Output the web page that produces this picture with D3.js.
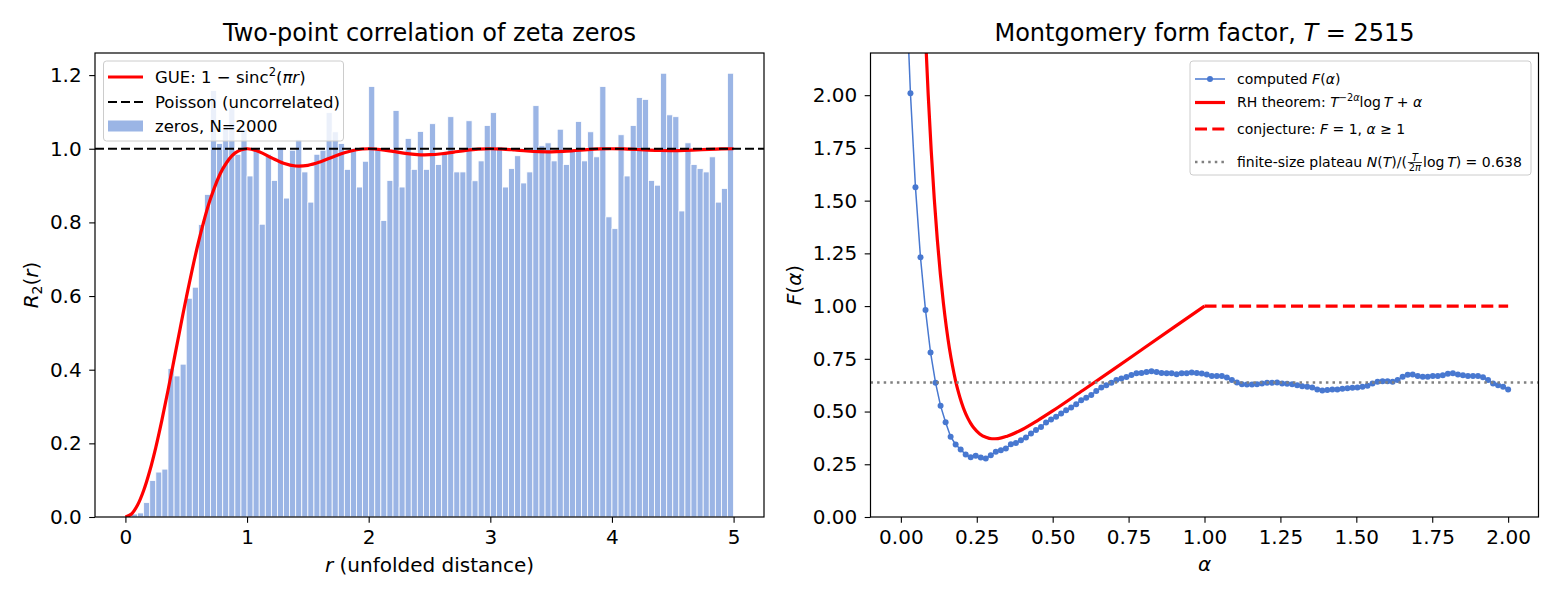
<!DOCTYPE html>
<html>
<head>
<meta charset="utf-8">
<script src="https://cdn.jsdelivr.net/npm/d3@7"></script>
<style>
  body { margin: 0; background: #fff; }
  text { white-space: pre; }
</style>
</head>
<body>
<script>
// ---------- data ----------
// left panel: histogram of pair distances, bin width 0.05 on [0,5]
var binWidth = 0.05;
var zeroDensity = [
  0.000, 0.008, 0.011, 0.039, 0.099, 0.122, 0.130, 0.403, 0.383, 0.415,
  0.594, 0.624, 0.794, 0.876, 1.158, 1.014, 1.060, 1.112, 0.985, 1.053,
  0.926, 1.003, 0.795, 0.985, 0.914, 1.003, 0.866, 0.996, 1.025, 0.937,
  0.855, 0.985, 0.996, 1.098, 1.046, 1.014, 0.944, 1.001, 0.896, 0.966,
  1.169, 1.001, 0.805, 0.914, 1.104, 0.896, 1.028, 0.944, 1.047, 0.944,
  1.068, 0.957, 0.987, 1.087, 0.937, 0.937, 1.076, 0.913, 0.967, 1.063,
  1.098, 1.005, 0.896, 0.946, 0.981, 0.907, 0.937, 1.117, 1.008, 1.016,
  0.967, 1.053, 0.957, 0.996, 1.074, 0.967, 1.046, 0.978, 1.169, 0.815,
  0.783, 1.038, 0.926, 1.063, 1.139, 1.134, 0.914, 0.901, 1.205, 1.092,
  1.087, 0.831, 1.016, 0.957, 0.946, 0.937, 0.978, 0.855, 0.892, 1.205
];
var binLeft = zeroDensity.map(function(d, i) { return i * binWidth; });

// GUE curve samples
var gueR = [0, 0.05, 0.1, 0.15, 0.2, 0.25, 0.3, 0.35, 0.4, 0.45, 0.5, 0.6, 0.7, 0.8, 0.9,
  1.0, 1.1, 1.2, 1.3, 1.4, 1.5, 1.6, 1.7, 1.8, 1.9,
  2.0, 2.1, 2.2, 2.3, 2.4, 2.5, 2.6, 2.7, 2.8, 2.9,
  3.0, 3.1, 3.2, 3.3, 3.4, 3.5, 3.6, 3.7, 3.8, 3.9,
  4.0, 4.1, 4.2, 4.3, 4.4, 4.5, 4.6, 4.7, 4.8, 4.9, 5.0];
var gueVals = [0.0000, 0.0082, 0.0325, 0.0719, 0.1249, 0.1894, 0.2632, 0.3434, 0.4272, 0.5119,
  0.5947, 0.7454, 0.8647, 0.9453, 0.9881,
  1.0000, 0.9920, 0.9757, 0.9608, 0.9532, 0.9550, 0.9642, 0.9771, 0.9892, 0.9973,
  1.0000, 0.9978, 0.9928, 0.9875, 0.9841, 0.9838, 0.9864, 0.9909, 0.9955, 0.9989,
  1.0000, 0.9990, 0.9966, 0.9939, 0.9921, 0.9917, 0.9929, 0.9952, 0.9976, 0.9994,
  1.0000, 0.9994, 0.9980, 0.9964, 0.9953, 0.9950, 0.9957, 0.9970, 0.9985, 0.9996, 1.0000];
var poissonLevel = 1.0;

// right panel: computed form factor on 121 alpha points from 0.015 to 2
var alphaGrid = d3.range(121).map(function(k) { return 0.015 + k * (1.985 / 120); });
var formFactor = [
  2.600, 2.009, 1.563, 1.231, 0.981, 0.780, 0.636, 0.527, 0.449, 0.381,
  0.344, 0.320, 0.296, 0.283, 0.290, 0.282, 0.277, 0.293, 0.309, 0.317,
  0.325, 0.345, 0.351, 0.364, 0.377, 0.396, 0.412, 0.427, 0.448, 0.462,
  0.475, 0.491, 0.506, 0.519, 0.535, 0.554, 0.565, 0.578, 0.598, 0.614,
  0.625, 0.636, 0.649, 0.657, 0.664, 0.673, 0.681, 0.683, 0.687, 0.691,
  0.687, 0.683, 0.681, 0.681, 0.677, 0.682, 0.682, 0.685, 0.683, 0.680,
  0.676, 0.669, 0.668, 0.669, 0.661, 0.649, 0.638, 0.630, 0.628, 0.628,
  0.630, 0.633, 0.636, 0.636, 0.638, 0.633, 0.632, 0.630, 0.625, 0.620,
  0.617, 0.614, 0.605, 0.600, 0.602, 0.605, 0.605, 0.608, 0.610, 0.613,
  0.614, 0.617, 0.622, 0.633, 0.641, 0.644, 0.644, 0.641, 0.649, 0.665,
  0.674, 0.676, 0.669, 0.665, 0.665, 0.668, 0.669, 0.672, 0.679, 0.682,
  0.676, 0.672, 0.669, 0.669, 0.668, 0.663, 0.649, 0.633, 0.625, 0.617,
  0.605
];
var rhAlpha = [0.06, 0.07, 0.08, 0.09, 0.10, 0.11, 0.12, 0.13, 0.14, 0.15, 0.16, 0.17, 0.18, 0.19,
               0.20, 0.21, 0.22, 0.23, 0.24, 0.26, 0.28, 0.30, 0.32, 0.35, 0.40, 0.45, 0.50,
               0.60, 0.70, 0.80, 0.90, 1.00];
var rhVals = [3.120, 2.686, 2.317, 2.003, 1.736, 1.509, 1.316, 1.153, 1.015, 0.898, 0.799, 0.717, 0.647, 0.590,
              0.542, 0.502, 0.470, 0.444, 0.423, 0.394, 0.378, 0.371, 0.372, 0.383, 0.415, 0.457, 0.503,
              0.601, 0.700, 0.800, 0.900, 1.000];
var conjAlpha = [1.0, 2.0];
var conjVals = [1.0, 1.0];
var plateauLevel = 0.638;

// ticks
var leftXTicks = [0, 1, 2, 3, 4, 5];
var leftYTicks = [0, 0.2, 0.4, 0.6, 0.8, 1.0, 1.2];
var rightXTicks = [0, 0.25, 0.5, 0.75, 1.0, 1.25, 1.5, 1.75, 2.0];
var rightYTicks = [0, 0.25, 0.5, 0.75, 1.0, 1.25, 1.5, 1.75, 2.0];

// ---------- setup ----------
var W = 1560, H = 598;
var FONT = "DejaVu Sans";
var tickFs = 20, labelFs = 20, titleFs = 24;
var svg = d3.select("body").append("svg")
  .attr("width", W).attr("height", H)
  .style("font-family", FONT);

var BAR_COLOR = "#9bb5e5";
var BLUE = "#4878d0";

// lays out a run of text pieces (italic, sub/superscripts, fractions)
function rich(parent, x, y, runs, fs, anchor, rotate) {
  var g = parent.append("g");
  var inner = g.append("g");
  var cx = 0;
  runs.forEach(function(r) {
    if (r.frac) {
      var s = fs * 0.7;
      var num = inner.append("text").attr("font-size", s).attr("font-style", "italic")
        .attr("y", -0.45 * fs).attr("text-anchor", "middle").text(r.frac[0]);
      var den = inner.append("text").attr("font-size", s).attr("y", 0.3 * fs).attr("text-anchor", "middle");
      den.append("tspan").text(r.frac[1]);
      den.append("tspan").attr("font-style", "italic").text(r.frac[2]);
      var w = Math.max(num.node().getComputedTextLength(), den.node().getComputedTextLength()) + 2;
      num.attr("x", cx + 1 + w / 2);
      den.attr("x", cx + 1 + w / 2);
      inner.append("line").attr("x1", cx + 1).attr("x2", cx + 1 + w)
        .attr("y1", -0.32 * fs).attr("y2", -0.32 * fs).attr("stroke", "#000").attr("stroke-width", 0.8);
      cx += w + 2;
    } else {
      var t = inner.append("text")
        .attr("x", cx).attr("y", (r.dy || 0) * fs)
        .attr("font-size", fs * (r.s || 1))
        .attr("font-style", r.i ? "italic" : "normal")
        .text(r.t);
      cx += t.node().getComputedTextLength();
    }
  });
  var shift = anchor === "middle" ? -cx / 2 : (anchor === "end" ? -cx : 0);
  inner.attr("transform", "translate(" + shift + ",0)");
  g.attr("transform", "translate(" + x + "," + y + ")" + (rotate ? " rotate(" + rotate + ")" : ""));
  return g;
}

function styleAxis(g) {
  g.attr("font-family", FONT).attr("font-size", tickFs);
  g.select(".domain").remove();
  g.selectAll(".tick line").attr("stroke", "#000").attr("stroke-width", 1.1);
  g.selectAll(".tick text").attr("fill", "#000");
}

// ---------- left panel ----------
var L = {x0: 95, x1: 764, y0: 53, y1: 517};
var x1 = d3.scaleLinear().domain([-0.25, 5.25]).range([L.x0, L.x1]);
var y1 = d3.scaleLinear().domain([0, 1.26]).range([L.y1, L.y0]);

svg.append("clipPath").attr("id", "clipL").append("rect")
  .attr("x", L.x0).attr("y", L.y0).attr("width", L.x1 - L.x0).attr("height", L.y1 - L.y0);
var gl = svg.append("g").attr("clip-path", "url(#clipL)");

gl.append("g").selectAll("rect")
  .data(zeroDensity)
  .enter().append("rect")
    .attr("x", function(d, i) { return x1(binLeft[i]); })
    .attr("width", function(d, i) { return x1(binLeft[i] + binWidth) - x1(binLeft[i]); })
    .attr("y", function(d) { return y1(d); })
    .attr("height", function(d) { return y1(0) - y1(d); })
    .attr("fill", BAR_COLOR)
    .attr("stroke", "#fff")
    .attr("stroke-width", 0.8);

gl.append("path")
  .datum(gueVals)
  .attr("fill", "none").attr("stroke", "#ff0000").attr("stroke-width", 3.2)
  .attr("d", d3.line()
    .x(function(d, i) { return x1(gueR[i]); })
    .y(function(d) { return y1(d); })
    .curve(d3.curveCatmullRom));

gl.append("line")
  .attr("x1", L.x0).attr("x2", L.x1)
  .attr("y1", y1(poissonLevel)).attr("y2", y1(poissonLevel))
  .attr("stroke", "#000").attr("stroke-width", 2).attr("stroke-dasharray", "9,4");

svg.append("g").attr("transform", "translate(0," + L.y1 + ")")
  .call(d3.axisBottom(x1).tickValues(leftXTicks).tickFormat(d3.format("d")).tickSize(5.8).tickPadding(7))
  .call(styleAxis);
svg.append("g").attr("transform", "translate(" + L.x0 + ",0)")
  .call(d3.axisLeft(y1).tickValues(leftYTicks).tickFormat(d3.format(".1f")).tickSize(5.8).tickPadding(7.5))
  .call(styleAxis);

svg.append("rect").attr("x", L.x0).attr("y", L.y0)
  .attr("width", L.x1 - L.x0).attr("height", L.y1 - L.y0)
  .attr("fill", "none").attr("stroke", "#000").attr("stroke-width", 1.2);

rich(svg, (L.x0 + L.x1) / 2, 41, [{t: "Two-point correlation of zeta zeros"}], titleFs, "middle");
rich(svg, (L.x0 + L.x1) / 2, 572, [{t: "r", i: true}, {t: " (unfolded distance)"}], labelFs, "middle");
rich(svg, 37.5, (L.y0 + L.y1) / 2,
  [{t: "R", i: true}, {t: "2", s: 0.7, dy: 0.22}, {t: "("}, {t: "r", i: true}, {t: ")"}], labelFs, "middle", -90);

// left legend
var legFs = 16.5;
var lg = svg.append("g");
lg.append("rect").attr("x", 103.5).attr("y", 61).attr("width", 240).attr("height", 80)
  .attr("rx", 3).attr("fill", "#fff").attr("fill-opacity", 0.8).attr("stroke", "#cccccc");
lg.append("line").attr("x1", 108).attr("x2", 143).attr("y1", 77).attr("y2", 77)
  .attr("stroke", "#ff0000").attr("stroke-width", 3.2);
lg.append("line").attr("x1", 108).attr("x2", 143).attr("y1", 102).attr("y2", 102)
  .attr("stroke", "#000").attr("stroke-width", 2).attr("stroke-dasharray", "9,4");
lg.append("rect").attr("x", 108).attr("y", 120.5).attr("width", 35).attr("height", 11)
  .attr("fill", BAR_COLOR);
rich(lg, 155, 83, [{t: "GUE: 1 \u2212 sinc"}, {t: "2", s: 0.7, dy: -0.42}, {t: "("}, {t: "\u03c0r", i: true}, {t: ")"}], legFs, "start");
rich(lg, 155, 108, [{t: "Poisson (uncorrelated)"}], legFs, "start");
rich(lg, 155, 132, [{t: "zeros, N=2000"}], legFs, "start");

// ---------- right panel ----------
var R = {x0: 870.5, x1: 1538.5, y0: 53, y1: 517};
var x2 = d3.scaleLinear().domain([-0.1, 2.1]).range([R.x0, R.x1]);
var y2 = d3.scaleLinear().domain([0, 2.2]).range([R.y1, R.y0]);

svg.append("clipPath").attr("id", "clipR").append("rect")
  .attr("x", R.x0).attr("y", R.y0).attr("width", R.x1 - R.x0).attr("height", R.y1 - R.y0);
var gr = svg.append("g").attr("clip-path", "url(#clipR)");

gr.append("path")
  .datum(formFactor)
  .attr("fill", "none").attr("stroke", BLUE).attr("stroke-width", 1.5)
  .attr("d", d3.line()
    .x(function(d, i) { return x2(alphaGrid[i]); })
    .y(function(d) { return y2(d); }));
gr.append("g").selectAll("circle")
  .data(formFactor)
  .enter().append("circle")
    .attr("cx", function(d, i) { return x2(alphaGrid[i]); })
    .attr("cy", function(d) { return y2(d); })
    .attr("r", 3)
    .attr("fill", BLUE);

gr.append("path")
  .datum(rhVals)
  .attr("fill", "none").attr("stroke", "#ff0000").attr("stroke-width", 3.2)
  .attr("d", d3.line()
    .x(function(d, i) { return x2(rhAlpha[i]); })
    .y(function(d) { return y2(d); })
    .curve(d3.curveMonotoneX));

gr.append("path")
  .datum(conjVals)
  .attr("fill", "none").attr("stroke", "#ff0000").attr("stroke-width", 3.2)
  .attr("stroke-dasharray", "12,5.3")
  .attr("d", d3.line()
    .x(function(d, i) { return x2(conjAlpha[i]); })
    .y(function(d) { return y2(d); }));

gr.append("line")
  .attr("x1", R.x0).attr("x2", R.x1)
  .attr("y1", y2(plateauLevel)).attr("y2", y2(plateauLevel))
  .attr("stroke", "#808080").attr("stroke-width", 2.5).attr("stroke-dasharray", "2.5,4.1");

svg.append("g").attr("transform", "translate(0," + R.y1 + ")")
  .call(d3.axisBottom(x2).tickValues(rightXTicks).tickFormat(d3.format(".2f")).tickSize(5.8).tickPadding(7))
  .call(styleAxis);
svg.append("g").attr("transform", "translate(" + R.x0 + ",0)")
  .call(d3.axisLeft(y2).tickValues(rightYTicks).tickFormat(d3.format(".2f")).tickSize(5.8).tickPadding(7.5))
  .call(styleAxis);

svg.append("rect").attr("x", R.x0).attr("y", R.y0)
  .attr("width", R.x1 - R.x0).attr("height", R.y1 - R.y0)
  .attr("fill", "none").attr("stroke", "#000").attr("stroke-width", 1.2);

rich(svg, (R.x0 + R.x1) / 2, 41, [{t: "Montgomery form factor, "}, {t: "T", i: true}, {t: " = 2515"}], titleFs, "middle");
rich(svg, (R.x0 + R.x1) / 2, 570.5, [{t: "\u03b1", i: true}], labelFs, "middle");
rich(svg, 801, (R.y0 + R.y1) / 2,
  [{t: "F", i: true}, {t: "("}, {t: "\u03b1", i: true}, {t: ")"}], labelFs, "middle", -90);

// right legend
var rFs = 14;
var rg = svg.append("g");
rg.append("rect").attr("x", 1190).attr("y", 61).attr("width", 341).attr("height", 114)
  .attr("rx", 3).attr("fill", "#fff").attr("fill-opacity", 0.8).attr("stroke", "#cccccc");
rg.append("line").attr("x1", 1195).attr("x2", 1225).attr("y1", 79).attr("y2", 79)
  .attr("stroke", BLUE).attr("stroke-width", 1.5);
rg.append("circle").attr("cx", 1210).attr("cy", 79).attr("r", 3).attr("fill", BLUE);
rg.append("line").attr("x1", 1195).attr("x2", 1225).attr("y1", 102.5).attr("y2", 102.5)
  .attr("stroke", "#ff0000").attr("stroke-width", 3.2);
rg.append("line").attr("x1", 1195).attr("x2", 1225).attr("y1", 129).attr("y2", 129)
  .attr("stroke", "#ff0000").attr("stroke-width", 3.2).attr("stroke-dasharray", "12,5.3");
rg.append("line").attr("x1", 1195).attr("x2", 1225).attr("y1", 162).attr("y2", 162)
  .attr("stroke", "#808080").attr("stroke-width", 2.5).attr("stroke-dasharray", "2.5,4.1");

rich(rg, 1237, 84, [{t: "computed "}, {t: "F", i: true}, {t: "("}, {t: "\u03b1", i: true}, {t: ")"}], rFs, "start");
rich(rg, 1237, 107, [{t: "RH theorem: "}, {t: "T", i: true}, {t: "\u22122", s: 0.7, dy: -0.45},
  {t: "\u03b1", i: true, s: 0.7, dy: -0.45}, {t: "log"}, {t: "\u2009"}, {t: "T", i: true}, {t: " + "}, {t: "\u03b1", i: true}], rFs, "start");
rich(rg, 1237, 134, [{t: "conjecture: "}, {t: "F", i: true}, {t: " = 1, "}, {t: "\u03b1", i: true}, {t: " \u2265 1"}], rFs, "start");
rich(rg, 1237, 167, [{t: "finite-size plateau "}, {t: "N", i: true}, {t: "("}, {t: "T", i: true}, {t: ")/("},
  {frac: ["T", "2", "\u03c0"]}, {t: "log"}, {t: "\u2009"}, {t: "T", i: true}, {t: ") = 0.638"}], rFs, "start");
</script>
</body>
</html>
